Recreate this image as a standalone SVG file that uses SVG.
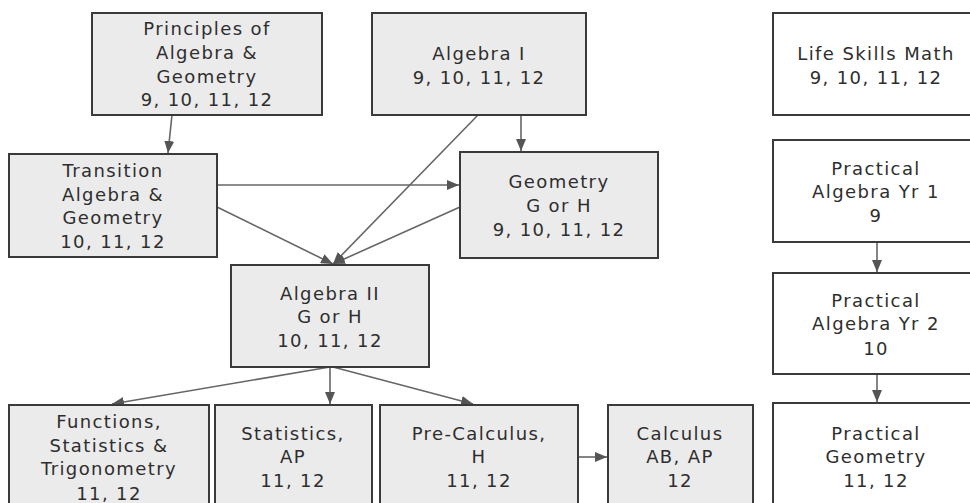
<svg xmlns="http://www.w3.org/2000/svg" width="970" height="503" viewBox="0 0 970 503">
<defs>
<style>
.box{fill:#ebebeb;stroke:#3a3a3a;stroke-width:2}
.wbox{fill:#ffffff;stroke:#3a3a3a;stroke-width:2}
.t{font-family:"DejaVu Sans","Liberation Sans",sans-serif;font-size:18px;letter-spacing:1.4px;fill:#2e2e2e;text-anchor:middle}
.c{stroke:#666;stroke-width:1.6;fill:none;marker-end:url(#ah)}
</style>
<marker id="ah" markerUnits="userSpaceOnUse" markerWidth="12" markerHeight="10" viewBox="0 0 12 10" refX="12" refY="5" orient="auto">
<path d="M0,0 L12,5 L0,10 Z" fill="#555"/>
</marker>
</defs>
<rect width="970" height="503" fill="#ffffff"/>
<g id="connectors">
<line class="c" x1="172" y1="115" x2="168" y2="153"/>
<line class="c" x1="217" y1="185" x2="459" y2="185"/>
<line class="c" x1="217" y1="207" x2="333" y2="264"/>
<line class="c" x1="478" y1="115" x2="333" y2="264"/>
<line class="c" x1="521" y1="115" x2="521" y2="151"/>
<line class="c" x1="460" y1="207" x2="333" y2="264"/>
<line class="c" x1="330" y1="367" x2="112" y2="404"/>
<line class="c" x1="330" y1="367" x2="330" y2="404"/>
<line class="c" x1="333" y1="367" x2="473" y2="404"/>
<line class="c" x1="578" y1="457" x2="607" y2="457"/>
<line class="c" x1="877" y1="242" x2="877" y2="272"/>
<line class="c" x1="877" y1="374" x2="877" y2="402"/>
</g>
<g id="principles">
<rect class="box" x="92" y="13" width="230" height="102"/>
<text class="t" x="207" y="35">Principles of</text>
<text class="t" x="207" y="59">Algebra &amp;</text>
<text class="t" x="207" y="83">Geometry</text>
<text class="t" x="207" y="106">9, 10, 11, 12</text>
</g>
<g id="algebra1">
<rect class="box" x="372" y="13" width="214" height="102"/>
<text class="t" x="479" y="60">Algebra I</text>
<text class="t" x="479" y="84">9, 10, 11, 12</text>
</g>
<g id="lifeskills">
<rect class="wbox" x="773" y="13" width="210" height="102"/>
<text class="t" x="876" y="60">Life Skills Math</text>
<text class="t" x="876" y="84">9, 10, 11, 12</text>
</g>
<g id="transition">
<rect class="box" x="9" y="154" width="208" height="103"/>
<text class="t" x="113" y="177">Transition</text>
<text class="t" x="113" y="201">Algebra &amp;</text>
<text class="t" x="113" y="224">Geometry</text>
<text class="t" x="113" y="248">10, 11, 12</text>
</g>
<g id="geometry">
<rect class="box" x="460" y="152" width="198" height="106"/>
<text class="t" x="559" y="188">Geometry</text>
<text class="t" x="559" y="212">G or H</text>
<text class="t" x="559" y="236">9, 10, 11, 12</text>
</g>
<g id="practical-alg1">
<rect class="wbox" x="773" y="140" width="210" height="102"/>
<text class="t" x="876" y="175">Practical</text>
<text class="t" x="876" y="198">Algebra Yr 1</text>
<text class="t" x="876" y="222">9</text>
</g>
<g id="algebra2">
<rect class="box" x="231" y="265" width="198" height="102"/>
<text class="t" x="330" y="300">Algebra II</text>
<text class="t" x="330" y="323">G or H</text>
<text class="t" x="330" y="347">10, 11, 12</text>
</g>
<g id="practical-alg2">
<rect class="wbox" x="773" y="273" width="210" height="101"/>
<text class="t" x="876" y="307">Practical</text>
<text class="t" x="876" y="330">Algebra Yr 2</text>
<text class="t" x="876" y="355">10</text>
</g>
<g id="functions">
<rect class="box" x="9" y="405" width="200" height="110"/>
<text class="t" x="109" y="428">Functions,</text>
<text class="t" x="109" y="452">Statistics &amp;</text>
<text class="t" x="109" y="475">Trigonometry</text>
<text class="t" x="109" y="500">11, 12</text>
</g>
<g id="statistics">
<rect class="box" x="215" y="405" width="157" height="110"/>
<text class="t" x="293" y="440">Statistics,</text>
<text class="t" x="293" y="463">AP</text>
<text class="t" x="293" y="487">11, 12</text>
</g>
<g id="precalc">
<rect class="box" x="380" y="405" width="198" height="110"/>
<text class="t" x="479" y="440">Pre-Calculus,</text>
<text class="t" x="479" y="463">H</text>
<text class="t" x="479" y="487">11, 12</text>
</g>
<g id="calculus">
<rect class="box" x="608" y="405" width="145" height="110"/>
<text class="t" x="680" y="440">Calculus</text>
<text class="t" x="680" y="463">AB, AP</text>
<text class="t" x="680" y="487">12</text>
</g>
<g id="practical-geometry">
<rect class="wbox" x="773" y="403" width="210" height="112"/>
<text class="t" x="876" y="440">Practical</text>
<text class="t" x="876" y="463">Geometry</text>
<text class="t" x="876" y="487">11, 12</text>
</g>
</svg>
